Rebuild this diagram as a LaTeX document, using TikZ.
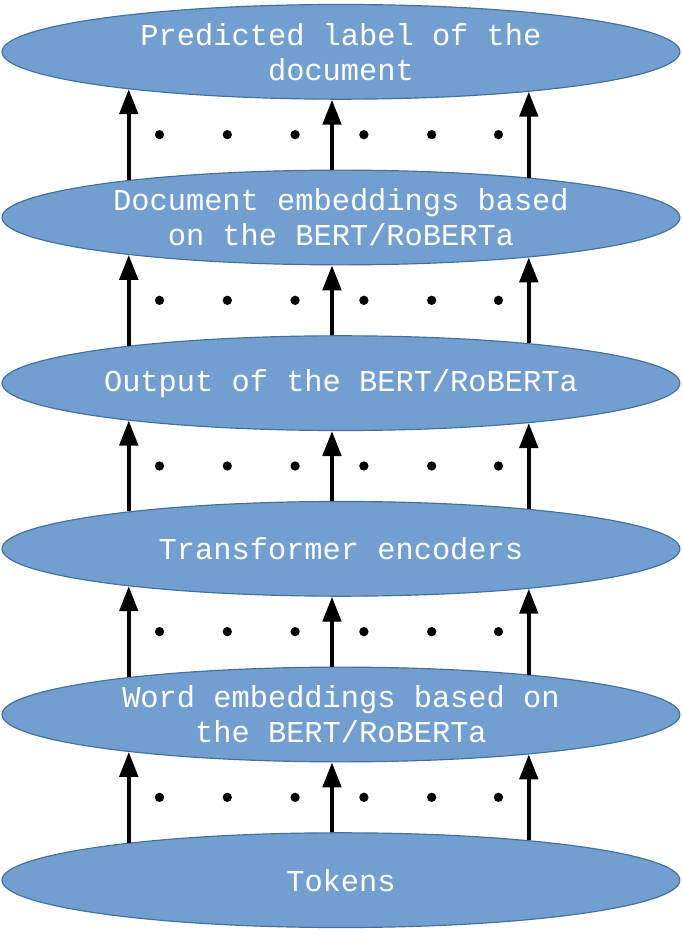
\documentclass[tikz,border=0pt]{standalone}
\usepackage{fontspec}
\setmainfont{Liberation Mono}
\usetikzlibrary{shapes.geometric, arrows.meta, positioning, calc}
\definecolor{layerfill}{RGB}{114,159,208}
\definecolor{layerdraw}{RGB}{65,113,156}
\tikzstyle{layer} = [ellipse, minimum width=20.4cm, minimum height=2.85cm, inner sep=0, align=center, draw=layerdraw, line width=1pt, fill=layerfill, text=white, font=\fontsize{26}{30}\selectfont]
\tikzset{uparrow/.style={line width=3.5pt, -{Triangle[length=0.75cm,width=0.55cm]}}}
\tikzstyle{dot} = [black]

\begin{document}
\begin{tikzpicture}[node distance=2.1cm]
\node[layer] (l1) at (0,0) {Tokens};
\node[layer, above=of l1] (l2) {Word embeddings based on\\the BERT/RoBERTa};
\node[layer, above=of l2] (l3) {Transformer encoders};
\node[layer, above=of l3] (l4) {Output of the BERT/RoBERTa};
\node[layer, above=of l4] (l5) {Document embeddings based\\on the BERT/RoBERTa};
\node[layer, above=of l5] (l6) {Predicted label of the\\document};

\useasboundingbox ($(l1.center)+(-10.26cm,-1.62cm)$) rectangle ($(l6.center)+(10.29cm,1.56cm)$);

\foreach \i/\j in {1/2,2/3,3/4,4/5,5/6}{
\draw[uparrow] (l\i.170) -- (l\j.190);
\draw[uparrow] ($(l\i.north)+(-0.27,0)$) -- ($(l\j.south)+(-0.27,0)$);
\draw[uparrow] (l\i.12) -- (l\j.348);
\coordinate (m\i) at ($(l\i.north)!0.5!(l\j.south)$);
\foreach \x in {-5.46,-3.42,-1.38,0.69,2.73,4.74}{
	\fill[dot] ($(m\i)+(\x,0)$) circle (0.14cm);
	}
}
\end{tikzpicture}
\end{document}
